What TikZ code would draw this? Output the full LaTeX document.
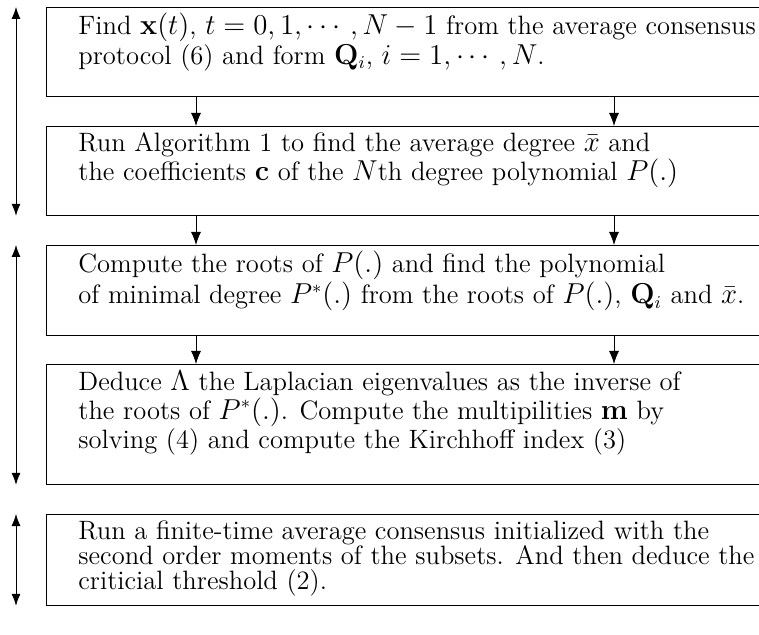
\documentclass[tikz,border=0pt]{standalone}
\usepackage{amsmath, amssymb}
\usetikzlibrary{arrows.meta,positioning}

\begin{document}
\begin{tikzpicture}[x=0.5pt,y=-0.5pt,
    stagebox/.style={draw, minimum width=380pt, minimum height=#1, inner sep=0pt, anchor=north west},
    stagetext/.style={anchor=north west, align=left, inner sep=0pt, font=\fontsize{13.28pt}{12.6pt}\selectfont},
    flow/.style={-{Latex[length=6.5pt,width=5pt]}},
    span/.style={{Latex[length=6pt,width=4.5pt]}-{Latex[length=6pt,width=4.5pt]}}]
    \useasboundingbox (0,0) rectangle (759,635);
    \clip (0,0) rectangle (759,635);

    \coordinate (side) at (16,0);
    \coordinate (colL) at (196,0);
    \coordinate (colR) at (614,0);

    \node[stagebox=44.5pt] (b1) at (46,7) {};
    \node[stagebox=44.5pt] (b2) at (46,126) {};
    \node[stagebox=45pt] (b3) at (46,245) {};
    \node[stagebox=60pt] (b4) at (46,364) {};
    \node[stagebox=45.5pt] (b5) at (46,514) {};

    \node[stagetext] (t1) at ([xshift=16pt,yshift=-3pt]b1.north west)
        {Find $\mathbf{x}(t)$, $t=0,1,\cdots,N-1$ from the average consensus\\
         protocol (6) and form $\mathbf{Q}_i$, $i=1,\cdots,N$.};
    \node[stagetext] (t2) at ([xshift=16pt,yshift=-3pt]b2.north west)
        {Run Algorithm 1 to find the average degree $\bar{x}$ and\\
         the coefficients $\mathbf{c}$ of the $N$th degree polynomial $P(.)$};
    \node[stagetext] (t3) at ([xshift=16pt,yshift=-3pt]b3.north west)
        {Compute the roots of $P(.)$ and find the polynomial\\
         of minimal degree $P^*(.)$ from the roots of $P(.)$, $\mathbf{Q}_i$ and $\bar{x}$.};
    \node[stagetext] (t4) at ([xshift=16pt,yshift=-3pt]b4.north west)
        {Deduce $\Lambda$ the Laplacian eigenvalues as the inverse of\\
         the roots of $P^*(.)$. Compute the multipilities $\mathbf{m}$ by\\
         solving (4) and compute the Kirchhoff index (3)};
    \node[stagetext] (t5) at ([xshift=16pt,yshift=-3pt]b5.north west)
        {Run a finite-time average consensus initialized with the\\
         second order moments of the subsets. And then deduce the\\
         criticial threshold (2).};

    \foreach \a/\b in {b1/b2,b2/b3,b3/b4} {
        \draw[flow] (\a.south -| colL) -- (\b.north -| colL);
        \draw[flow] (\a.south -| colR) -- (\b.north -| colR);
    }

    \draw[span] (b1.north -| side) -- (b2.south -| side);
    \draw[span] (b3.north -| side) -- (b4.south -| side);
    \draw[span] (b5.north -| side) -- (b5.south -| side);
\end{tikzpicture}
\end{document}
